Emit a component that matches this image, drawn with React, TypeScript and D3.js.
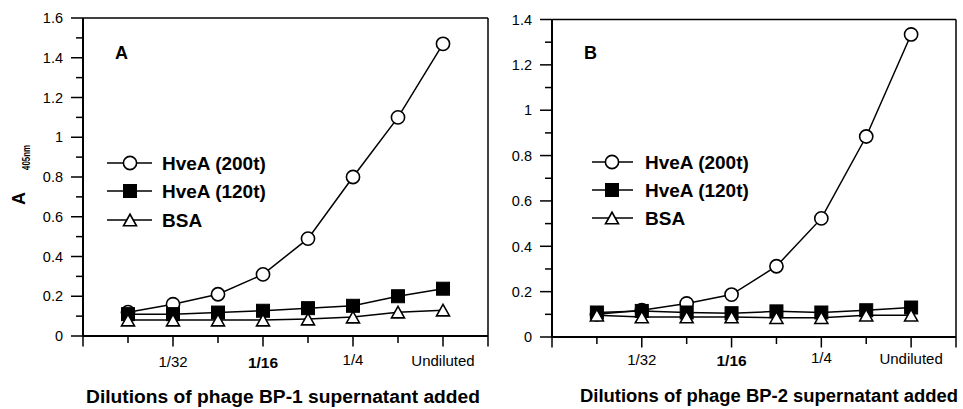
import React from "react";
import * as d3 from "d3";

// ---- data ----
const dilutionLabels = ["", "1/32", "", "1/16", "", "1/4", "", "Undiluted"];
const seriesNames = ["HveA (200t)", "HveA (120t)", "BSA"];

const panelA_200t = [0.12, 0.16, 0.21, 0.31, 0.49, 0.8, 1.1, 1.47];
const panelA_120t = [0.11, 0.11, 0.118, 0.127, 0.14, 0.152, 0.2, 0.238];
const panelA_BSA = [0.08, 0.08, 0.08, 0.08, 0.085, 0.095, 0.12, 0.13];

const panelB_200t = [0.1, 0.118, 0.148, 0.187, 0.312, 0.523, 0.884, 1.334];
const panelB_120t = [0.108, 0.115, 0.108, 0.105, 0.113, 0.108, 0.118, 0.13];
const panelB_BSA = [0.096, 0.088, 0.088, 0.088, 0.085, 0.085, 0.096, 0.096];

const yTicksA = d3.range(0, 1.6001, 0.1);
const yTicksB = d3.range(0, 1.4001, 0.1);

const xTitles = [
  "Dilutions of phage BP-1 supernatant added",
  "Dilutions of phage BP-2 supernatant added",
];
const panelLetters = ["A", "B"];

const FONT = "'Liberation Sans', Arial, Helvetica, sans-serif";

type PanelCfg = {
  idx: number;
  letter: string;
  series: number[][];
  yMax: number;
  yTicks: number[];
  x0: number;
  x1: number;
  yTop: number;
  yBot: number;
  labelY: number;
  legendX0: number;
  legendX1: number;
  legendMarkX: number;
  legendTextX: number;
  legendRows: number[];
  titleX0: number;
  titleX1: number;
  titleY: number;
  tickLabelX: number;
};

function Marker({ kind, cx, cy }: { kind: number; cx: number; cy: number }) {
  if (kind === 0)
    return <circle cx={cx} cy={cy} r={6.6} fill="#fff" stroke="#000" strokeWidth={1.6} />;
  if (kind === 1)
    return <rect x={cx - 6.5} y={cy - 6.5} width={13} height={13} fill="#000" stroke="#000" strokeWidth={1} />;
  const w = 13, h = 11.5;
  const pts = `${cx - w / 2},${cy + h / 2} ${cx + w / 2},${cy + h / 2} ${cx},${cy - h / 2}`;
  return <polygon points={pts} fill="#fff" stroke="#000" strokeWidth={1.6} strokeLinejoin="miter" />;
}

function Panel({ cfg }: { cfg: PanelCfg }) {
  const x = d3.scaleLinear().domain([0, 9]).range([cfg.x0, cfg.x1]);
  const y = d3.scaleLinear().domain([0, cfg.yMax]).range([cfg.yBot, cfg.yTop]);
  const line = d3
    .line<number>()
    .x((_, i) => x(i + 1))
    .y((d) => y(d));
  const fmt = (v: number) => String(+v.toFixed(1));
  const xTickPos = d3.range(0, 10);
  return (
    <g>
      {/* frame */}
      <line x1={cfg.x0} x2={cfg.x1} y1={y(cfg.yMax)} y2={y(cfg.yMax)} stroke="#000" strokeWidth={1.5} />
      <line x1={cfg.x1} x2={cfg.x1} y1={y(cfg.yMax)} y2={cfg.yBot} stroke="#000" strokeWidth={1.5} />
      <line x1={cfg.x0} x2={cfg.x1} y1={cfg.yBot} y2={cfg.yBot} stroke="#000" strokeWidth={2} />
      <line x1={cfg.x0} x2={cfg.x0} y1={y(cfg.yMax)} y2={cfg.yBot} stroke="#000" strokeWidth={2} />
      {/* y ticks */}
      {cfg.yTicks.map((t, i) => {
        const major = i % 2 === 0;
        return (
          <g key={i}>
            <line
              x1={cfg.x0 - (major ? 12 : 7)}
              x2={cfg.x0}
              y1={y(t)}
              y2={y(t)}
              stroke="#000"
              strokeWidth={1.5}
            />
            {major && (
              <text
                x={cfg.tickLabelX}
                y={y(t)}
                dy="0.36em"
                textAnchor="end"
                fontFamily={FONT}
                fontSize={14.5}
              >
                {fmt(t)}
              </text>
            )}
          </g>
        );
      })}
      {/* x ticks */}
      {xTickPos.map((p) => {
        const major = p % 2 === 0 || p === 9;
        return (
          <line
            key={p}
            x1={x(p)}
            x2={x(p)}
            y1={cfg.yBot}
            y2={cfg.yBot + (major ? 10.5 : 7)}
            stroke="#000"
            strokeWidth={1.5}
          />
        );
      })}
      {dilutionLabels.map((lab, i) =>
        lab ? (
          <text
            key={i}
            x={x(i + 1)}
            y={cfg.labelY + (lab === "1/16" ? 1.5 : lab === "1/4" ? -1.5 : lab === "Undiluted" ? -1 : 0)}
            textAnchor="middle"
            fontFamily={FONT}
            fontSize={lab === "1/16" ? 15.5 : 15}
            fontWeight={lab === "1/16" ? "bold" : "normal"}
          >
            {lab}
          </text>
        ) : null
      )}
      {/* series lines */}
      {cfg.series.map((s, k) => (
        <path key={k} d={line(s) || ""} fill="none" stroke="#000" strokeWidth={1.5} />
      ))}
      {cfg.series.map((s, k) =>
        s.map((v, i) => <Marker key={`${k}-${i}`} kind={k} cx={x(i + 1)} cy={y(v)} />)
      )}
      {/* panel letter */}
      <text x={cfg.x0 + 32} y={59} fontFamily={FONT} fontWeight="bold" fontSize={18}>
        {cfg.letter}
      </text>
      {/* legend */}
      {seriesNames.map((n, k) => (
        <g key={n}>
          <line
            x1={cfg.legendX0}
            x2={cfg.legendX1}
            y1={cfg.legendRows[k]}
            y2={cfg.legendRows[k]}
            stroke="#000"
            strokeWidth={1.5}
          />
          <Marker kind={k} cx={cfg.legendMarkX} cy={cfg.legendRows[k]} />
          <text
            x={cfg.legendTextX}
            y={cfg.legendRows[k] + 7}
            fontFamily={FONT}
            fontWeight="bold"
            fontSize={19}
          >
            {n}
          </text>
        </g>
      ))}
      {/* x title */}
      <text
        x={(cfg.titleX0 + cfg.titleX1) / 2}
        y={cfg.titleY}
        textAnchor="middle"
        fontFamily={FONT}
        fontWeight="bold"
        fontSize={18}
        textLength={cfg.titleX1 - cfg.titleX0}
        lengthAdjust="spacingAndGlyphs"
      >
        {xTitles[cfg.idx]}
      </text>
    </g>
  );
}

export default function App() {
  const panels: PanelCfg[] = [
    {
      idx: 0,
      letter: panelLetters[0],
      series: [panelA_200t, panelA_120t, panelA_BSA],
      yMax: 1.6,
      yTicks: yTicksA,
      x0: 83,
      x1: 488,
      yTop: 18,
      yBot: 336,
      labelY: 366.5,
      legendX0: 107,
      legendX1: 152,
      legendMarkX: 130,
      legendTextX: 162,
      legendRows: [163, 191, 220],
      titleX0: 86,
      titleX1: 480,
      titleY: 403,
      tickLabelX: 63,
    },
    {
      idx: 1,
      letter: panelLetters[1],
      series: [panelB_200t, panelB_120t, panelB_BSA],
      yMax: 1.4,
      yTicks: yTicksB,
      x0: 552,
      x1: 956,
      yTop: 19.5,
      yBot: 337,
      labelY: 364.5,
      legendX0: 592,
      legendX1: 633,
      legendMarkX: 612,
      legendTextX: 645,
      legendRows: [162, 190, 218],
      titleX0: 580,
      titleX1: 958,
      titleY: 401.5,
      tickLabelX: 532,
    },
  ];
  return (
    <svg
      width={963}
      height={409}
      viewBox="0 0 963 409"
      style={{ position: "absolute", left: 0, top: 0, background: "#fff" }}
    >
      <rect width={963} height={409} fill="#fff" />
      {panels.map((p) => (
        <Panel key={p.letter} cfg={p} />
      ))}
      {/* y axis title */}
      <g transform="translate(25,205) rotate(-90)">
        <text fontFamily={FONT} fontWeight="bold" fontSize={18}>
          <tspan>A</tspan>
        </text>
        <text
          x={35}
          y={5}
          fontFamily={FONT}
          fontWeight="bold"
          fontSize={10}
          textLength={25}
          lengthAdjust="spacingAndGlyphs"
        >
          405nm
        </text>
      </g>
    </svg>
  );
}
